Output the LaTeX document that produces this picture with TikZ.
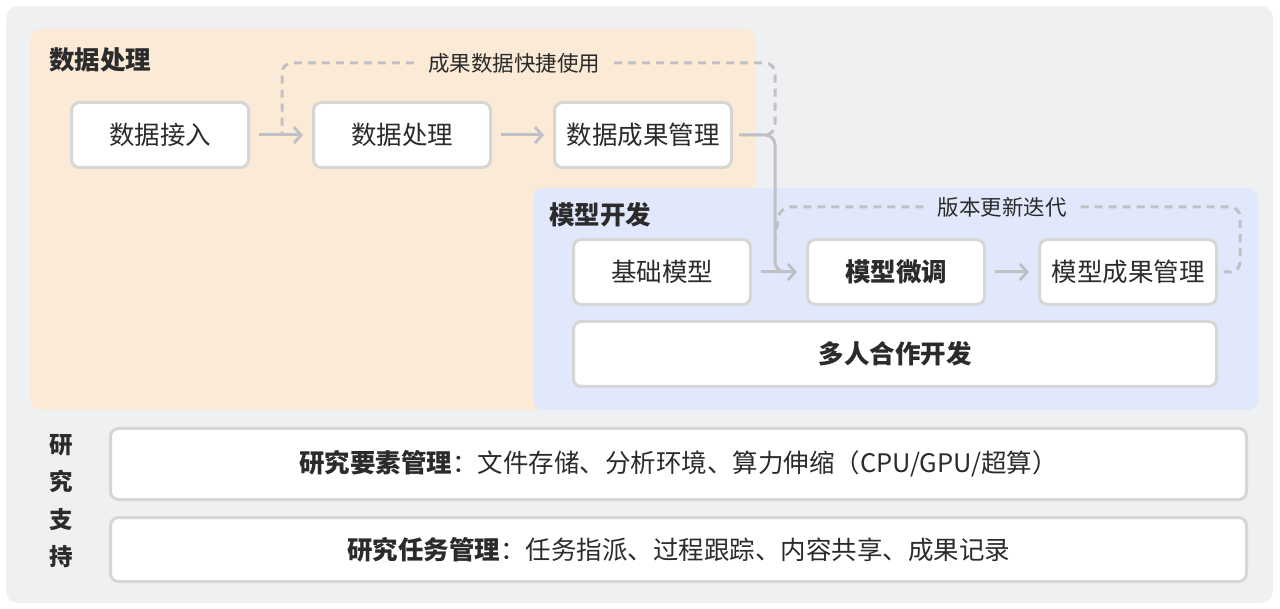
\documentclass[tikz,border=0pt]{standalone}
\usepackage{fontspec}
\setmainfont{Noto Sans CJK SC}
\usetikzlibrary{arrows.meta}
\definecolor{bgc}{HTML}{EFF0F2}
\definecolor{orangep}{HTML}{FBEAD6}
\definecolor{bluep}{HTML}{E2E8FB}
\definecolor{boxline}{HTML}{D6D6D6}
\definecolor{arrc}{HTML}{BFC1C5}
\definecolor{txt}{HTML}{2B2B2B}
\begin{document}
\begin{tikzpicture}[x=1pt,y=-1pt,
  box/.style={draw=boxline,line width=3pt,fill=white,rounded corners=8pt,inner sep=0pt,
    font=\fontsize{25.5}{30}\selectfont,text=txt,minimum height=65pt},
  smallbox/.style={box,minimum width=177pt},
  title/.style={font=\fontsize{25.5}{30}\selectfont\bfseries,text=txt,inner sep=0pt},
  lbl/.style={font=\fontsize{21.5}{26}\selectfont,text=txt,inner sep=0pt},
  flow/.style={draw=arrc,line width=3pt,-{Straight Barb[length=7pt,width=16pt,line width=3pt]},shorten <=9pt,shorten >=9pt},
  loop/.style={draw=arrc,line width=3pt,dash pattern=on 8pt off 6pt,rounded corners=10pt},
  solidl/.style={draw=arrc,line width=3pt,rounded corners=10pt},
]
\useasboundingbox (0,0) rectangle (1280,609);
\fill[bgc,rounded corners=12pt] (6,6) rectangle (1273,603);
\fill[orangep,rounded corners=10pt] (30,29) rectangle (755,410);
\fill[bluep,rounded corners=10pt] (533,188) rectangle (1258,410);

\node[title,anchor=west] (t1) at (49,60) {数据处理};
\node[title,anchor=west] (t2) at (549,215) {模型开发};

\node[smallbox] (a1) at (160,135) {数据接入};
\node[smallbox] (a2) at (402,135) {数据处理};
\node[smallbox] (a3) at (643,135) {数据成果管理};
\node[smallbox] (b1) at (662,272) {基础模型};
\node[smallbox] (b2) at (896,272) {\bfseries 模型微调};
\node[smallbox] (b3) at (1128,272) {模型成果管理};
\node[box,minimum width=643pt] (b4) at (895,354) {\bfseries 多人合作开发};

\node[box,minimum width=1136pt,minimum height=71pt] (c1) at (678.5,464) {\textbf{研究要素管理}：文件存储、分析环境、算力伸缩（CPU/GPU/超算）};
\node[box,minimum width=1136pt,minimum height=64pt] (c2) at (678.5,549.5) {\textbf{研究任务管理}：任务指派、过程跟踪、内容共享、成果记录};

\node[title,align=center,font=\fontsize{23.5}{37.5}\selectfont\bfseries] (side) at (61,501) {研\\究\\支\\持};

\node[lbl] (l1) at (514,63) {成果数据快捷使用};
\node[lbl] (l2) at (1002,207) {版本更新迭代};

% loops
\draw[loop] ([xshift=-14pt]l1.west) -- (282,63) -- (282,135);
\draw[loop] ([xshift=14pt]l1.east) -- (775,63) -- (775,135) -- (a3.east);
\draw[loop] ([xshift=14pt]l2.east) -- (1240,207) -- (1240,272) -- (b3.east);
\draw[loop] ([xshift=-14pt]l2.west) -- (780,207) -- (775,240);

% flows
\draw[flow] (a1) -- (a2);
\draw[flow] (a2) -- (a3);
\draw[solidl,shorten <=9pt] (a3.east) -- (775,135) -- (775,272) -- (785,272);
\draw[flow] (b1) -- (b2);
\draw[flow] (b2) -- (b3);
\end{tikzpicture}
\end{document}
